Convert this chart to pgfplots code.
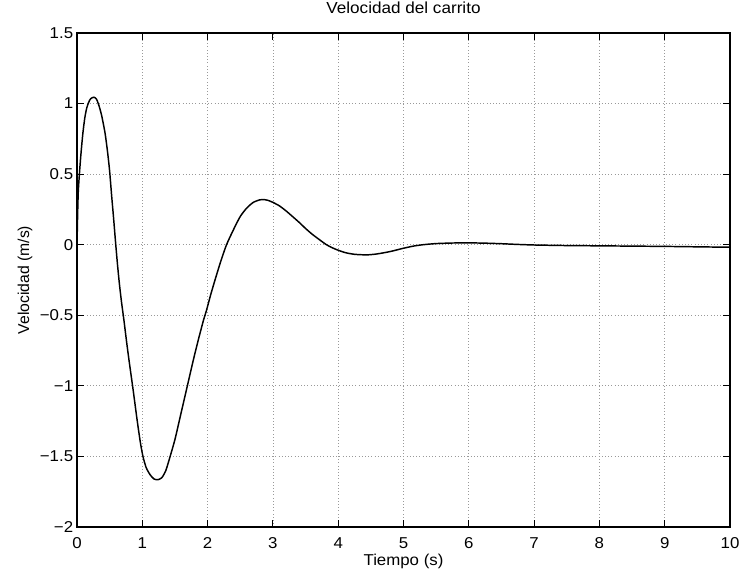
\documentclass[border=0pt]{standalone}
\usepackage{fontspec}
\setmainfont{Liberation Sans}
\usepackage{pgfplots}
\pgfplotsset{compat=1.18}
\begin{document}
\fontsize{11.8}{14}\selectfont
\begin{tikzpicture}
\begin{axis}[
  scale only axis,
  width=489.75pt, height=370.5pt,
  xmin=0, xmax=10, ymin=-2, ymax=1.5,
  xtick={0,1,...,10},
  ytick={-2,-1.5,-1,-0.5,0,0.5,1,1.5},
  yticklabels={−2,−1.5,−1,−0.5,0,0.5,1,1.5},
  /pgf/number format/assume math mode=true,
  tick align=inside, tick pos=both,
  major tick length=5pt,
  axis line style={line width=0.8pt},
  every tick/.style={line width=0.8pt, black},
  grid=major,
  major grid style={dotted, black!40, line width=0.6pt},
  ticklabel style={font=\fontsize{11.8}{14}\selectfont, xscale=1.07},
  xticklabel style={anchor=center, yshift=-11.9pt},
  yticklabel style={inner sep=2.5pt},
  title={Velocidad del carrito},
  title style={at={(axis description cs:0.5,1.0344)}, anchor=center, font=\fontsize{12}{14}\selectfont, xscale=1.07},
  xlabel={Tiempo (s)},
  xlabel style={at={(axis description cs:0.5,-0.0688)}, anchor=center, font=\fontsize{11.8}{14}\selectfont, xscale=1.07},
  ylabel={Velocidad (m/s)},
  ylabel style={at={(axis description cs:-0.0796,0.5)}, anchor=center, font=\fontsize{11.8}{14}\selectfont},
]
\coordinate (sw) at (rel axis cs:0,0);
\addplot[black, line width=1.1pt, smooth, tension=0.4] coordinates {
(0,0) (0.01,0.22) (0.02,0.38) (0.04,0.52) (0.06,0.64) (0.09,0.79)
(0.12,0.90) (0.15,0.97) (0.18,1.01) (0.21,1.035) (0.26,1.045)
(0.30,1.03) (0.34,0.98) (0.38,0.91) (0.43,0.79) (0.47,0.65)
(0.50,0.52) (0.53,0.35) (0.56,0.19) (0.59,0.02) (0.62,-0.14)
(0.65,-0.28) (0.68,-0.40) (0.72,-0.54) (0.76,-0.69) (0.80,-0.83)
(0.86,-1.03) (0.92,-1.24) (0.97,-1.40) (1.01,-1.50) (1.06,-1.58)
(1.12,-1.63) (1.18,-1.66) (1.24,-1.665) (1.30,-1.65) (1.36,-1.60)
(1.42,-1.51) (1.50,-1.38) (1.58,-1.22) (1.64,-1.10) (1.70,-0.98)
(1.78,-0.82) (1.86,-0.67) (1.94,-0.53) (1.98,-0.47) (2.05,-0.35)
(2.12,-0.24) (2.20,-0.12) (2.29,0.00) (2.40,0.11) (2.50,0.20)
(2.60,0.26) (2.70,0.30) (2.80,0.318) (2.85,0.32) (2.92,0.315)
(3.00,0.30) (3.10,0.275) (3.20,0.24) (3.30,0.20) (3.41,0.155)
(3.50,0.115) (3.60,0.075) (3.70,0.04) (3.82,0.00) (3.95,-0.03)
(4.10,-0.055) (4.25,-0.068) (4.44,-0.072) (4.60,-0.065) (4.80,-0.048)
(5.00,-0.025) (5.15,-0.01) (5.30,0.0) (5.50,0.008) (5.75,0.012)
(6.00,0.013) (6.25,0.011) (6.50,0.007) (6.75,0.002) (7.00,-0.002)
(7.50,-0.006) (8.00,-0.008) (8.50,-0.010) (9.00,-0.012) (9.50,-0.015)
(10.00,-0.018)
};
\end{axis}
\pgfresetboundingbox
\path[use as bounding box] (sw) ++(-57.75pt,-37.5pt) rectangle ++(556.5pt,432.75pt);
\end{tikzpicture}
\end{document}
